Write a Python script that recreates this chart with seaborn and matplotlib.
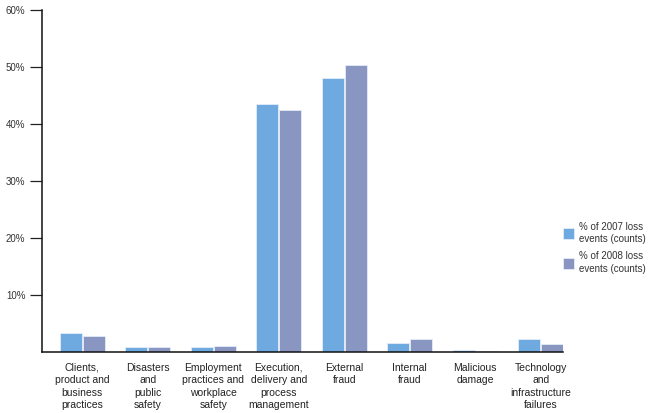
import pandas as pd
import numpy as np
import matplotlib.pyplot as plt
import seaborn as sns

# --- data ---
categories = [
    "Clients,\nproduct and\nbusiness\npractices",
    "Disasters\nand\npublic\nsafety",
    "Employment\npractices and\nworkplace\nsafety",
    "Execution,\ndelivery and\nprocess\nmanagement",
    "External\nfraud",
    "Internal\nfraud",
    "Malicious\ndamage",
    "Technology\nand\ninfrastructure\nfailures",
]
pct_2007 = [3.3, 0.9, 0.9, 43.5, 48.0, 1.6, 0.35, 2.2]
pct_2008 = [2.7, 0.9, 1.1, 42.4, 50.4, 2.2, 0.2, 1.4]
series = ["% of 2007 loss\nevents (counts)", "% of 2008 loss\nevents (counts)"]
y_ticks = [10, 20, 30, 40, 50, 60]

df = pd.DataFrame({
    "category": categories * 2,
    "value": pct_2007 + pct_2008,
    "series": [series[0]] * len(categories) + [series[1]] * len(categories),
})

sns.set_style("white")
plt.rcParams["font.family"] = ["Liberation Sans", "DejaVu Sans"]

fig = plt.figure(figsize=(6.48, 4.13), dpi=100)
ax = fig.add_axes([0.065, 0.148, 0.804, 0.828])

sns.barplot(
    data=df, x="category", y="value", hue="series",
    palette=["#6eaadf", "#8996c1"], saturation=1, width=0.7, gap=0.04,
    edgecolor="#e4ecf8", linewidth=0.6, ax=ax,
)

ax.set_xlim(-0.61, 7.34)
ax.set_ylim(0, 60)
ax.set_yticks(y_ticks)
ax.set_yticklabels([f"{t}%" for t in y_ticks], fontsize=7, color="#333333")
ax.tick_params(axis="y", length=8.5, width=0.9, color="#222222", direction="out", left=True, pad=3.5)
ax.tick_params(axis="x", length=0, labelsize=7.5, labelcolor="#222222", pad=8)
ax.set_xlabel("")
ax.set_ylabel("")

for s in ["top", "right"]:
    ax.spines[s].set_visible(False)
for s in ["left", "bottom"]:
    ax.spines[s].set_color("#111111")
    ax.spines[s].set_linewidth(1.1)

for lbl in ax.get_xticklabels():
    lbl.set_linespacing(1.3)
    lbl.set_ha("center")

leg = ax.legend(
    loc="center left", bbox_to_anchor=(0.99, 0.305), frameon=False,
    fontsize=7, handlelength=1.2, handleheight=1.35, handletextpad=0.45,
    labelspacing=0.75, borderpad=0,
)
for t in leg.get_texts():
    t.set_color("#333333")
    t.set_linespacing(1.3)

plt.savefig("out.png", dpi=100)
